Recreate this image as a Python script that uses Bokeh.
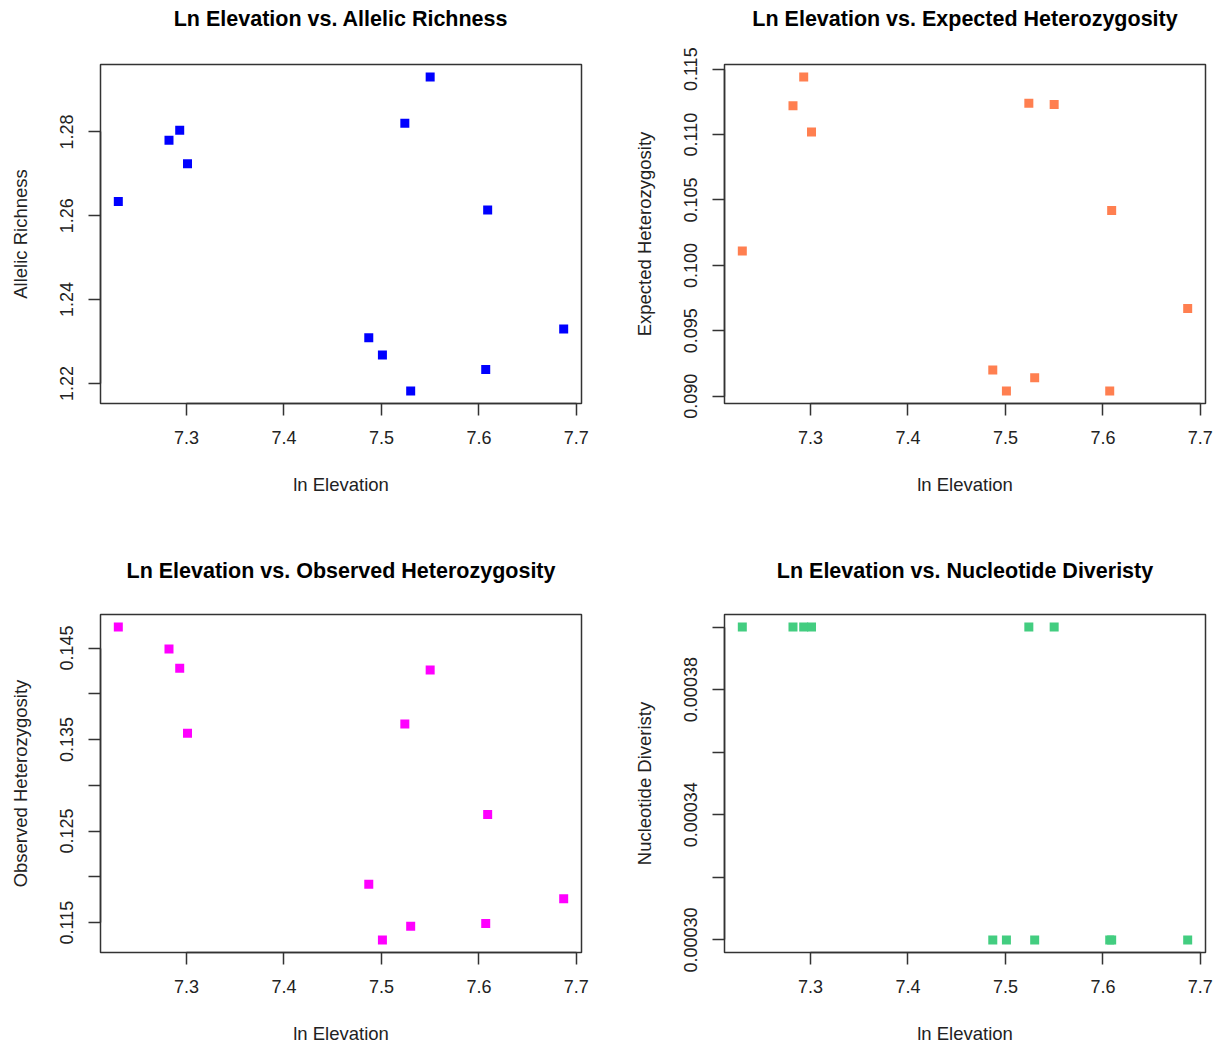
from bokeh.plotting import figure
from bokeh.layouts import column, row
from bokeh.models import Range1d, FixedTicker, Title
from bokeh.embed import file_html
from bokeh.resources import INLINE

# ---- data ----
ln_elevation = [7.230, 7.282, 7.293, 7.301, 7.487, 7.501, 7.524, 7.530, 7.550, 7.607, 7.609, 7.687]
allelic_richness = [1.2634, 1.2780, 1.2804, 1.2724, 1.2309, 1.2268, 1.2821, 1.2182, 1.2931, 1.2233, 1.2614, 1.2330]
expected_het = [0.1011, 0.1122, 0.1144, 0.1102, 0.0920, 0.0904, 0.1124, 0.0914, 0.1123, 0.0904, 0.1042, 0.0967]
observed_het = [0.1473, 0.1449, 0.1428, 0.1357, 0.1192, 0.1131, 0.1367, 0.1146, 0.1426, 0.1149, 0.1268, 0.1176]
nucleotide_div = [0.0004, 0.0004, 0.0004, 0.0004, 0.0003, 0.0003, 0.0004, 0.0003, 0.0004, 0.0003, 0.0003, 0.0003]

x_ticks = [7.3, 7.4, 7.5, 7.6, 7.7]
x_tick_labels = ["7.3", "7.4", "7.5", "7.6", "7.7"]

ar_ticks = [1.22, 1.24, 1.26, 1.28]
ar_labels = ["1.22", "1.24", "1.26", "1.28"]
he_ticks = [0.090, 0.095, 0.100, 0.105, 0.110, 0.115]
he_labels = ["0.090", "0.095", "0.100", "0.105", "0.110", "0.115"]
ho_ticks = [0.115, 0.120, 0.125, 0.130, 0.135, 0.140, 0.145]
ho_labels = ["0.115", "", "0.125", "", "0.135", "", "0.145"]
nd_ticks = [0.00030, 0.00032, 0.00034, 0.00036, 0.00038, 0.00040]
nd_labels = ["0.00030", "", "0.00034", "", "0.00038", ""]

FONT = "Liberation Sans"
LINE = "#333333"


def padded(vals, frac=0.04):
    lo, hi = min(vals), max(vals)
    d = (hi - lo) * frac
    return Range1d(lo - d, hi + d)


def panel(title, ylabel, yvals, yticks, ylabels, color, left, right, top, bottom, fh, gap):
    p = figure(width=left + 481 + right, height=top + fh + bottom,
               frame_width=481, frame_height=fh,
               x_range=padded(ln_elevation), y_range=padded(yvals),
               output_backend="svg", toolbar_location=None,
               min_border_left=left, min_border_right=right,
               min_border_top=top, min_border_bottom=bottom)
    p.grid.visible = False
    p.outline_line_color = LINE
    p.outline_line_width = 1.5
    p.background_fill_color = "white"
    p.border_fill_color = "white"

    # spacer between the frame and the title
    p.add_layout(Title(text=" ", text_font_size="1px", standoff=gap), "above")
    p.title.text = title
    p.title.align = "center"
    p.title.text_font = FONT
    p.title.text_font_style = "bold"
    p.title.text_font_size = "21.5px"
    p.title.text_color = "#000000"
    p.title.standoff = 0

    p.scatter(ln_elevation, yvals, marker="square", size=9,
              fill_color=color, line_color=None)

    for ax, ticks, labels in ((p.xaxis[0], x_ticks, x_tick_labels),
                              (p.yaxis[0], yticks, ylabels)):
        ax.ticker = FixedTicker(ticks=ticks)
        ax.major_label_overrides = {t: l for t, l in zip(ticks, labels)}
        ax.bounds = (ticks[0], ticks[-1])
        ax.minor_tick_line_color = None
        ax.major_tick_in = 0
        ax.major_tick_out = 12
        ax.major_tick_line_color = LINE
        ax.major_tick_line_width = 1.5
        ax.axis_line_color = LINE
        ax.axis_line_width = 1.5
        ax.major_label_text_font = FONT
        ax.major_label_text_font_size = "18px"
        ax.major_label_text_color = "#222222"
        ax.axis_label_text_font = FONT
        ax.axis_label_text_font_size = "18.5px"
        ax.axis_label_text_font_style = "normal"
        ax.axis_label_text_color = "#222222"

    p.xaxis.axis_label = "ln Elevation"
    p.xaxis.major_label_standoff = 15
    p.xaxis.axis_label_standoff = 27
    p.yaxis.axis_label = ylabel
    p.yaxis.major_label_orientation = "vertical"
    p.yaxis.major_label_standoff = 15
    p.yaxis.axis_label_standoff = 27
    return p


p1 = panel("Ln Elevation vs. Allelic Richness", "Allelic Richness",
           allelic_richness, ar_ticks, ar_labels, "#0000FF", 100, 28, 64, 122, 339, 31)
p2 = panel("Ln Elevation vs. Expected Heterozygosity", "Expected Heterozygosity",
           expected_het, he_ticks, he_labels, "#FF7F50", 115, 14, 64, 122, 339, 31)
p3 = panel("Ln Elevation vs. Observed Heterozygosity", "Observed Heterozygosity",
           observed_het, ho_ticks, ho_labels, "#FF00FF", 100, 28, 89, 97, 338, 29)
p4 = panel("Ln Elevation vs. Nucleotide Diveristy", "Nucleotide Diveristy",
           nucleotide_div, nd_ticks, nd_labels, "#43CD80", 115, 14, 89, 97, 338, 29)

layout = column(row(p1, p2), row(p3, p4))

open("out.html", "w").write(file_html(layout, INLINE))
